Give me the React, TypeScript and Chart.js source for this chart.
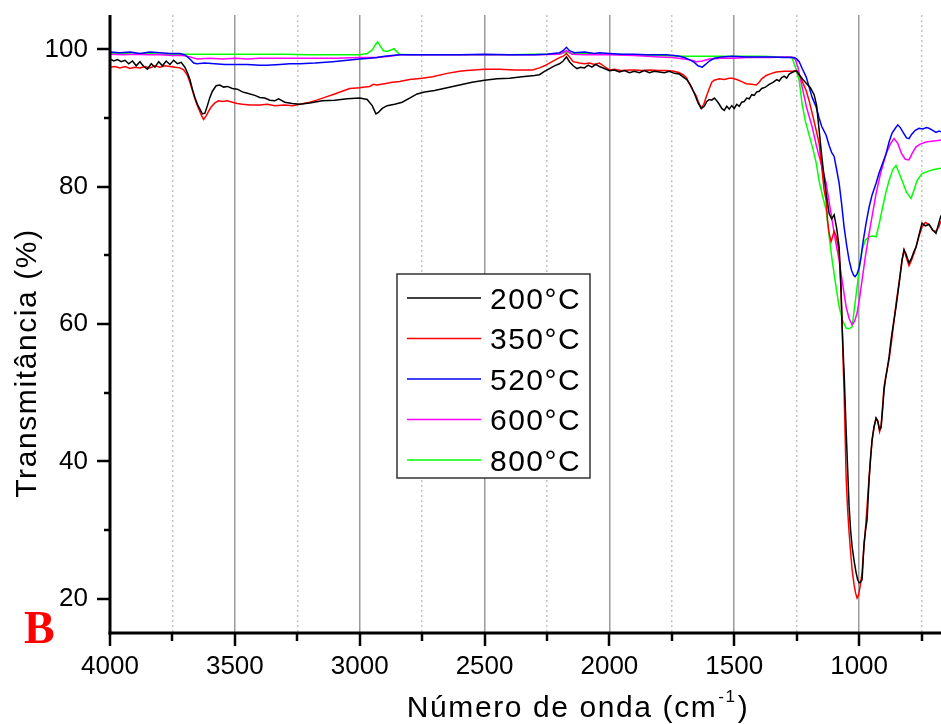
import React, { useEffect, useRef } from 'react';
import { Chart, registerables } from 'chart.js';

Chart.register(...registerables);

// ---------- data ----------
const seriesLabels = ['200°C', '350°C', '520°C', '600°C', '800°C'];
const seriesColors = ['#000000', '#ff0000', '#0000ff', '#ff00ff', '#00ff00'];

const wn200 = [4000, 3985, 3970, 3955, 3940, 3925, 3910, 3895, 3880, 3865, 3850, 3835, 3820, 3805, 3790, 3775, 3760, 3745, 3730, 3715, 3700, 3690, 3680, 3670, 3660, 3650, 3640, 3630, 3620, 3610, 3600, 3590, 3575, 3560, 3545, 3530, 3510, 3490, 3470, 3450, 3420, 3400, 3380, 3360, 3340, 3325, 3315, 3300, 3270, 3240, 3200, 3150, 3100, 3050, 3000, 2970, 2950, 2935, 2925, 2910, 2890, 2860, 2830, 2800, 2770, 2740, 2700, 2650, 2600, 2550, 2500, 2450, 2400, 2350, 2300, 2280, 2260, 2240, 2220, 2200, 2185, 2172, 2160, 2145, 2130, 2115, 2100, 2085, 2070, 2055, 2040, 2020, 2000, 1980, 1960, 1940, 1920, 1900, 1880, 1860, 1840, 1820, 1800, 1780, 1760, 1740, 1720, 1705, 1690, 1675, 1660, 1645, 1632, 1620, 1610, 1600, 1590, 1580, 1570, 1560, 1550, 1540, 1530, 1520, 1510, 1500, 1490, 1480, 1470, 1460, 1450, 1440, 1430, 1420, 1410, 1400, 1390, 1375, 1360, 1345, 1330, 1320, 1310, 1300, 1290, 1280, 1265, 1252, 1240, 1225, 1210, 1195, 1180, 1170, 1160, 1150, 1140, 1130, 1120, 1110, 1100, 1090, 1080, 1072, 1068, 1064, 1060, 1052, 1046, 1040, 1034, 1028, 1020, 1012, 1006, 1000, 994, 988, 984, 980, 974, 968, 964, 960, 954, 948, 940, 932, 925, 918, 912, 906, 900, 894, 888, 880, 872, 862, 852, 840, 828, 820, 812, 800, 790, 780, 772, 760, 748, 735, 720, 705, 692, 680, 672];
const t200 = [98.6, 98.3, 98.5, 98.2, 98.4, 97.9, 98.3, 97.6, 98.2, 97.5, 97.1, 97.9, 97.4, 98.2, 97.6, 98.3, 97.8, 98.4, 97.9, 98.1, 97.4, 96.6, 95.6, 94.2, 93.0, 92.0, 91.3, 90.6, 90.7, 91.8, 93.0, 93.9, 94.7, 94.8, 94.5, 94.6, 94.3, 94.2, 93.8, 93.6, 93.3, 93.0, 92.9, 92.6, 92.5, 92.8, 92.6, 92.3, 92.1, 92.0, 92.2, 92.5, 92.6, 92.8, 92.9, 92.7, 91.8, 90.6, 90.8, 91.4, 91.8, 92.0, 92.3, 92.9, 93.5, 93.8, 94.0, 94.4, 94.8, 95.2, 95.5, 95.7, 95.8, 96.0, 96.2, 96.3, 96.8, 97.2, 97.6, 97.9, 98.3, 98.9, 98.2, 97.6, 97.2, 97.4, 97.3, 97.7, 97.4, 97.8, 97.5, 97.2, 96.9, 97.0, 96.7, 96.9, 96.6, 96.8, 96.6, 96.9, 96.6, 96.8, 96.7, 96.6, 96.8, 96.5, 96.4, 96.0, 95.6, 94.8, 93.6, 92.2, 91.4, 91.7, 92.4, 92.7, 92.6, 92.9, 92.5, 92.0, 91.4, 91.1, 91.7, 91.3, 91.8, 91.4, 92.0, 91.7, 92.3, 92.4, 92.9, 92.8, 93.4, 93.3, 93.8, 93.9, 94.3, 94.5, 94.9, 95.2, 95.6, 95.4, 95.9, 96.1, 95.8, 96.4, 96.7, 96.9, 96.3, 95.6, 95.0, 94.4, 93.4, 91.8, 88.2, 84.6, 81.4, 78.5, 76.1, 75.3, 75.9, 74.0, 71.2, 65.0, 59.6, 56.0, 52.9, 44.6, 39.0, 33.4, 30.0, 27.6, 25.5, 23.8, 22.8, 22.3, 22.4, 22.8, 25.5, 28.1, 30.0, 31.5, 34.5, 37.3, 40.5, 43.1, 45.0, 46.3, 45.8, 44.6, 44.9, 47.5, 50.4, 52.0, 53.3, 55.2, 57.7, 60.2, 62.5, 65.8, 69.3, 70.8, 70.2, 68.9, 69.6, 70.6, 71.2, 73.0, 74.7, 74.3, 74.5, 73.7, 73.2, 74.8, 75.8];

const wn350 = [4000, 3980, 3960, 3940, 3920, 3900, 3880, 3860, 3840, 3820, 3800, 3780, 3760, 3740, 3720, 3705, 3690, 3680, 3670, 3660, 3650, 3640, 3630, 3625, 3615, 3605, 3595, 3580, 3565, 3550, 3530, 3510, 3490, 3470, 3440, 3400, 3370, 3340, 3300, 3268, 3240, 3200, 3172, 3140, 3100, 3070, 3040, 3000, 2980, 2960, 2945, 2932, 2900, 2870, 2840, 2800, 2750, 2708, 2650, 2600, 2572, 2500, 2440, 2380, 2308, 2280, 2260, 2240, 2220, 2200, 2185, 2172, 2160, 2145, 2120, 2100, 2080, 2060, 2040, 2020, 2000, 1980, 1950, 1920, 1900, 1870, 1840, 1800, 1772, 1740, 1720, 1705, 1692, 1680, 1665, 1652, 1642, 1632, 1622, 1612, 1600, 1590, 1580, 1560, 1540, 1520, 1508, 1490, 1470, 1452, 1430, 1412, 1400, 1390, 1372, 1350, 1332, 1300, 1268, 1250, 1235, 1225, 1212, 1200, 1188, 1175, 1160, 1150, 1140, 1132, 1126, 1120, 1112, 1100, 1092, 1080, 1074, 1068, 1064, 1060, 1056, 1052, 1046, 1040, 1034, 1028, 1020, 1014, 1008, 1002, 996, 988, 984, 980, 976, 972, 966, 960, 954, 948, 940, 932, 925, 918, 912, 906, 900, 890, 880, 870, 860, 852, 840, 828, 820, 812, 800, 790, 780, 772, 760, 748, 735, 720, 705, 692, 680, 672];
const t350 = [97.4, 97.5, 97.3, 97.5, 97.2, 97.4, 97.3, 97.5, 97.3, 97.6, 97.4, 97.6, 97.5, 97.4, 97.3, 97.0, 96.2, 95.2, 94.0, 92.8, 91.8, 90.9, 90.1, 89.8, 90.3, 91.0, 91.6, 92.2, 92.5, 92.4, 92.5, 92.3, 92.1, 92.0, 91.9, 91.9, 92.0, 91.8, 91.9, 91.8, 92.0, 92.3, 92.6, 93.0, 93.5, 93.9, 94.3, 94.4, 94.5, 94.6, 94.9, 94.8, 95.0, 95.2, 95.3, 95.6, 95.8, 96.0, 96.5, 96.8, 96.9, 97.1, 97.1, 97.0, 97.0, 97.3, 97.6, 98.0, 98.4, 98.8, 99.0, 99.4, 98.9, 98.2, 98.0, 97.9, 98.0, 97.8, 98.0, 97.5, 97.0, 97.1, 96.9, 97.0, 97.0, 96.9, 97.0, 96.9, 96.9, 96.8, 96.6, 96.3, 95.9, 95.0, 94.0, 93.2, 92.2, 91.4, 92.0, 93.1, 94.3, 95.2, 95.5, 95.7, 95.6, 95.8, 95.8, 95.6, 95.3, 95.0, 94.9, 94.8, 95.2, 95.7, 96.2, 96.5, 96.7, 96.8, 96.8, 96.9, 96.0, 95.1, 94.0, 92.5, 90.7, 88.7, 86.3, 83.0, 79.5, 78.0, 75.0, 73.2, 72.0, 73.5, 72.8, 70.5, 66.0, 60.0, 54.5, 50.0, 44.0, 37.7, 33.0, 29.6, 26.8, 24.2, 22.0, 20.8, 20.1, 20.5, 21.8, 23.8, 26.0, 27.8, 29.5, 31.5, 34.5, 37.7, 40.5, 43.1, 45.1, 46.3, 45.9, 44.3, 45.1, 48.0, 50.9, 53.0, 54.8, 57.5, 60.5, 63.0, 66.0, 69.3, 70.8, 69.8, 68.5, 69.3, 70.3, 71.2, 72.8, 74.1, 74.8, 74.5, 73.6, 73.5, 74.2, 75.0];

const wn520 = [4000, 3960, 3920, 3880, 3840, 3800, 3760, 3720, 3700, 3680, 3665, 3652, 3620, 3580, 3540, 3500, 3450, 3400, 3372, 3320, 3280, 3240, 3180, 3108, 3050, 3000, 2960, 2932, 2900, 2870, 2840, 2780, 2700, 2600, 2500, 2400, 2300, 2250, 2200, 2185, 2172, 2160, 2140, 2100, 2060, 2040, 2000, 1950, 1900, 1850, 1800, 1772, 1740, 1720, 1700, 1680, 1660, 1645, 1628, 1615, 1600, 1580, 1550, 1508, 1450, 1400, 1350, 1300, 1280, 1260, 1250, 1240, 1228, 1212, 1200, 1188, 1172, 1160, 1150, 1132, 1120, 1110, 1100, 1090, 1080, 1070, 1060, 1050, 1040, 1030, 1022, 1016, 1008, 1000, 992, 984, 972, 960, 948, 932, 920, 905, 892, 880, 868, 855, 845, 835, 820, 810, 800, 790, 775, 760, 745, 730, 720, 705, 692, 680, 672];
const t520 = [99.6, 99.5, 99.6, 99.4, 99.6, 99.5, 99.4, 99.4, 99.2, 98.6, 98.0, 97.9, 98.0, 97.9, 97.8, 97.8, 97.8, 97.7, 97.7, 97.8, 97.9, 97.9, 98.0, 98.2, 98.4, 98.6, 98.7, 98.8, 99.0, 99.1, 99.2, 99.2, 99.2, 99.2, 99.3, 99.2, 99.2, 99.3, 99.5, 99.8, 100.3, 99.8, 99.5, 99.6, 99.4, 99.5, 99.4, 99.3, 99.3, 99.2, 99.2, 99.2, 99.1, 99.0, 98.8, 98.5, 98.1, 97.6, 97.4, 97.8, 98.3, 98.7, 98.9, 99.0, 98.9, 98.9, 98.9, 98.8, 98.8, 98.8, 98.6, 98.2, 97.2, 96.0, 94.5, 93.0, 91.6, 90.0, 88.8, 87.5, 86.0, 85.0, 84.4, 82.5, 80.5, 77.5, 74.1, 71.5, 69.3, 67.8, 67.1, 66.9, 67.3, 68.2, 69.8, 72.0, 74.7, 77.0, 78.8, 80.5, 82.0, 83.5, 84.8, 86.5, 87.8, 88.5, 89.0, 88.6, 87.7, 87.1, 87.0, 87.6, 88.2, 88.5, 88.4, 88.6, 88.5, 88.2, 87.9, 88.1, 88.0];

const wn600 = [4000, 3950, 3900, 3850, 3800, 3750, 3708, 3680, 3652, 3600, 3550, 3500, 3450, 3400, 3300, 3200, 3100, 3000, 2932, 2880, 2840, 2700, 2600, 2500, 2400, 2300, 2200, 2172, 2150, 2100, 2000, 1900, 1800, 1750, 1700, 1670, 1652, 1628, 1600, 1550, 1500, 1450, 1400, 1350, 1300, 1270, 1255, 1245, 1228, 1210, 1188, 1170, 1148, 1132, 1120, 1108, 1094, 1080, 1066, 1052, 1040, 1028, 1018, 1008, 998, 988, 975, 960, 945, 932, 915, 892, 875, 860, 845, 830, 815, 800, 788, 772, 755, 732, 710, 690, 672];
const t600 = [99.3, 99.2, 99.3, 99.2, 99.2, 99.1, 99.1, 98.9, 98.6, 98.7, 98.6, 98.7, 98.6, 98.7, 98.7, 98.7, 98.7, 98.8, 98.8, 99.0, 99.2, 99.2, 99.2, 99.2, 99.2, 99.2, 99.3, 99.8, 99.3, 99.2, 99.2, 99.1, 98.9, 98.8, 98.6, 98.4, 98.2, 98.3, 98.6, 98.7, 98.7, 98.8, 98.8, 98.8, 98.9, 98.9, 98.5, 97.4, 94.5, 91.5, 88.7, 85.8, 82.8, 80.5, 77.8, 75.1, 72.0, 69.3, 65.8, 62.5, 60.8, 59.9, 60.4, 61.6, 63.8, 66.4, 69.8, 73.2, 76.3, 79.0, 81.8, 84.8, 86.2, 87.0, 86.3, 84.8, 84.0, 83.9, 84.8, 85.8, 86.2, 86.5, 86.6, 86.7, 86.8];

const wn800 = [4000, 3950, 3900, 3850, 3800, 3700, 3600, 3500, 3400, 3300, 3200, 3100, 3000, 2970, 2950, 2938, 2928, 2918, 2905, 2890, 2875, 2862, 2850, 2840, 2800, 2700, 2600, 2500, 2400, 2300, 2200, 2172, 2150, 2100, 2000, 1900, 1800, 1700, 1600, 1500, 1400, 1300, 1280, 1268, 1255, 1240, 1228, 1215, 1200, 1185, 1172, 1160, 1146, 1132, 1120, 1108, 1094, 1080, 1066, 1052, 1040, 1028, 1018, 1008, 998, 988, 975, 960, 945, 932, 920, 908, 895, 880, 865, 852, 840, 828, 810, 792, 780, 768, 748, 720, 700, 672];
const t800 = [99.4, 99.4, 99.3, 99.4, 99.3, 99.3, 99.3, 99.3, 99.3, 99.3, 99.2, 99.2, 99.2, 99.4, 99.9, 100.6, 101.1, 100.5, 99.8, 99.7, 99.9, 100.1, 99.6, 99.3, 99.2, 99.2, 99.2, 99.2, 99.2, 99.3, 99.3, 99.6, 99.4, 99.4, 99.3, 99.2, 99.1, 99.0, 99.0, 99.0, 99.0, 98.9, 98.9, 98.7, 97.4, 95.5, 92.0, 89.5, 87.5, 85.5, 83.5, 80.8, 78.6, 76.6, 72.8, 69.3, 65.8, 62.5, 60.5, 59.4, 59.3, 59.6, 62.5, 65.4, 68.4, 70.8, 72.2, 72.7, 72.8, 72.7, 74.5, 76.6, 78.8, 80.9, 82.5, 83.1, 82.0, 80.9, 79.2, 78.3, 79.5, 80.9, 81.9, 82.3, 82.5, 82.7];

const seriesWn = [wn200, wn350, wn520, wn600, wn800];
const seriesT = [t200, t350, t520, t600, t800];

const xMin = 672;
const xMax = 4000;
const yMin = 15;
const yMax = 105;
const xTickValues = [4000, 3750, 3500, 3250, 3000, 2750, 2500, 2250, 2000, 1750, 1500, 1250, 1000, 750];
const xMajorStep = 500;
const yTickValues = [20, 40, 60, 80, 100];
const yMinorTicks = [30, 50, 70, 90];

const xTitle = 'Número de onda (cm';
const xTitleSup = '-1';
const yTitle = 'Transmitância (%)';
const panelLetter = 'B';

const SANS = '"Liberation Sans", Arial, sans-serif';

const overlayPlugin = {
  id: 'overlay',
  afterDraw(chart: any) {
    const { ctx, chartArea: ca, scales } = chart;
    const xs = scales.x;
    const ys = scales.y;
    ctx.save();

    // axis lines
    ctx.strokeStyle = '#000';
    ctx.lineWidth = 3;
    ctx.beginPath();
    ctx.moveTo(ca.left, ca.top);
    ctx.lineTo(ca.left, ca.bottom + 1.5);
    ctx.stroke();
    ctx.beginPath();
    ctx.moveTo(ca.left - 1.5, ca.bottom);
    ctx.lineTo(ca.right, ca.bottom);
    ctx.stroke();

    // tick marks
    ctx.lineWidth = 2.5;
    xTickValues.forEach((v) => {
      const px = Math.round(xs.getPixelForValue(v));
      const len = v % xMajorStep === 0 ? 13 : 8;
      ctx.beginPath();
      ctx.moveTo(px, ca.bottom);
      ctx.lineTo(px, ca.bottom + len);
      ctx.stroke();
    });
    yTickValues.forEach((v) => {
      const py = Math.round(ys.getPixelForValue(v));
      ctx.beginPath();
      ctx.moveTo(ca.left, py);
      ctx.lineTo(ca.left - 13, py);
      ctx.stroke();
    });
    yMinorTicks.forEach((v) => {
      const py = Math.round(ys.getPixelForValue(v));
      ctx.beginPath();
      ctx.moveTo(ca.left, py);
      ctx.lineTo(ca.left - 6, py);
      ctx.stroke();
    });

    // x title with superscript
    ctx.fillStyle = '#000';
    ctx.textBaseline = 'alphabetic';
    ctx.textAlign = 'left';
    (ctx as any).letterSpacing = '1.6px';
    ctx.font = `30px ${SANS}`;
    const wMain = ctx.measureText(xTitle).width;
    const wClose = ctx.measureText(')').width;
    ctx.font = `17px ${SANS}`;
    const wSup = ctx.measureText(xTitleSup).width;
    const total = wMain + wSup + 2 + wClose;
    let sx = 578 - total / 2;
    const by = 717;
    ctx.font = `30px ${SANS}`;
    ctx.fillText(xTitle, sx, by);
    sx += wMain + 1;
    ctx.font = `17px ${SANS}`;
    ctx.fillText(xTitleSup, sx, by - 15);
    sx += wSup + 1;
    ctx.font = `30px ${SANS}`;
    ctx.fillText(')', sx, by);

    // y title
    ctx.save();
    ctx.translate(36, 363);
    ctx.rotate(-Math.PI / 2);
    ctx.textAlign = 'center';
    (ctx as any).letterSpacing = '1.6px';
    ctx.font = `30px ${SANS}`;
    ctx.fillText(yTitle, 0, 0);
    ctx.restore();

    // panel letter
    (ctx as any).letterSpacing = '0px';
    ctx.fillStyle = '#ff0000';
    ctx.font = `bold 46px "Liberation Serif", "Times New Roman", serif`;
    ctx.textAlign = 'left';
    ctx.fillText(panelLetter, 24, 643);

    // legend box
    const lx = 397, ly = 274, lw = 193, lh = 204;
    ctx.fillStyle = '#ffffff';
    ctx.fillRect(lx, ly, lw, lh);
    ctx.strokeStyle = '#333';
    ctx.lineWidth = 1.5;
    ctx.strokeRect(lx, ly, lw, lh);
    chart.data.datasets.forEach((ds: any, i: number) => {
      const cy = 298 + i * 40.5;
      ctx.strokeStyle = ds.borderColor;
      ctx.lineWidth = 1.5;
      ctx.beginPath();
      ctx.moveTo(407, cy);
      ctx.lineTo(481, cy);
      ctx.stroke();
      ctx.fillStyle = '#000';
      (ctx as any).letterSpacing = '1.5px';
      ctx.font = `30px ${SANS}`;
      ctx.fillText(ds.label, 490, cy + 10.5);
    });

    ctx.restore();
  },
};

export default function App() {
  const canvasRef = useRef<HTMLCanvasElement | null>(null);

  useEffect(() => {
    document.body.style.margin = '0';
    const canvas = canvasRef.current;
    if (!canvas) return;
    const datasets = seriesLabels.map((label, i) => ({
      label,
      data: seriesWn[i].map((w, j) => ({ x: w, y: seriesT[i][j] })),
      borderColor: seriesColors[i],
      backgroundColor: seriesColors[i],
      borderWidth: 1.5,
      pointRadius: 0,
      tension: 0,
      fill: false,
    }));

    const chart = new Chart(canvas, {
      type: 'line',
      data: { datasets },
      options: {
        animation: false,
        responsive: false,
        devicePixelRatio: 1,
        layout: { padding: { left: 0, right: 0, top: 15, bottom: 0 } },
        plugins: { legend: { display: false }, tooltip: { enabled: false } },
        scales: {
          x: {
            type: 'linear',
            reverse: true,
            min: xMin,
            max: xMax,
            afterBuildTicks: (scale: any) => {
              scale.ticks = xTickValues.map((v) => ({ value: v }));
            },
            afterFit: (scale: any) => {
              scale.height = 91;
              scale.paddingLeft = 0;
              scale.paddingRight = 0;
            },
            ticks: {
              autoSkip: false,
              maxRotation: 0,
              padding: 21,
              color: '#000',
              font: { family: SANS, size: 26, lineHeight: 1 },
              callback: (v: any) => (Number(v) % xMajorStep === 0 ? String(v) : ''),
            },
            grid: {
              drawTicks: false,
              lineWidth: 1.5,
              color: (ctx: any) => {
                const v = ctx.tick ? ctx.tick.value : 0;
                return v % xMajorStep === 0 ? '#9a9a9a' : '#c4c4c4';
              },
            },
            border: {
              display: false,
              dash: (ctx: any) => {
                if (!ctx.tick) return [];
                return ctx.tick.value % xMajorStep === 0 ? [] : [2, 3];
              },
            },
          },
          y: {
            type: 'linear',
            min: yMin,
            max: yMax,
            afterBuildTicks: (scale: any) => {
              scale.ticks = yTickValues.map((v) => ({ value: v }));
            },
            afterFit: (scale: any) => {
              scale.width = 110;
              scale.paddingTop = 0;
              scale.paddingBottom = 0;
            },
            ticks: {
              padding: 22,
              color: '#000',
              font: { family: SANS, size: 26, lineHeight: 1 },
            },
            grid: { display: false, drawTicks: false },
            border: { display: false },
          },
        },
      },
      plugins: [overlayPlugin],
    } as any);

    return () => {
      chart.destroy();
    };
  }, []);

  return (
    <div style={{ width: 941, height: 724, background: '#fff' }}>
      <canvas ref={canvasRef} width={941} height={724} style={{ display: 'block' }} />
    </div>
  );
}
